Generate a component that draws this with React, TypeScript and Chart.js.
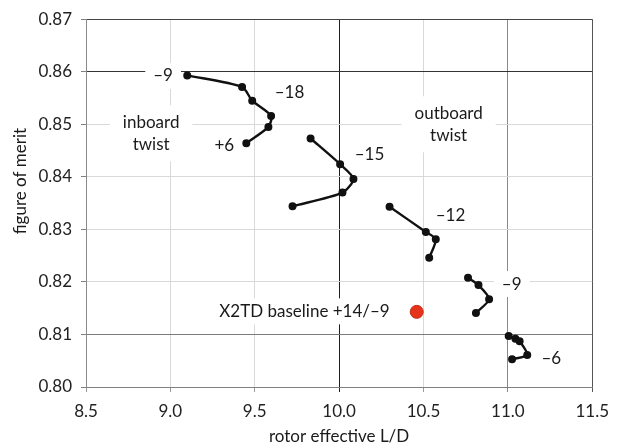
import React, { useEffect, useRef } from "react";
import { Chart, registerables } from "chart.js";

Chart.register(...registerables);

// ---- data (rotor effective L/D, figure of merit) ----
const curve18X = [9.1, 9.425, 9.485, 9.597, 9.581, 9.45];
const curve18Y = [0.8593, 0.8571, 0.8545, 0.8516, 0.8495, 0.8464];
const curve15X = [9.831, 10.006, 10.085, 10.02, 9.724];
const curve15Y = [0.8473, 0.8424, 0.8396, 0.837, 0.8344];
const curve12X = [10.299, 10.514, 10.573, 10.534];
const curve12Y = [0.8343, 0.8295, 0.8281, 0.8246];
const curve9X = [10.764, 10.826, 10.889, 10.811];
const curve9Y = [0.8208, 0.8194, 0.8167, 0.8141];
const curve6X = [11.005, 11.045, 11.07, 11.115, 11.025];
const curve6Y = [0.8097, 0.8092, 0.8087, 0.8061, 0.8053];
const baselineX = [10.46];
const baselineY = [0.8143];

const xTickMin = 8.5;
const xTickMax = 11.5;
const xTickStep = 0.5;
const yTickMin = 0.8;
const yTickMax = 0.87;
const yTickStep = 0.01;

const xTitle = "rotor effective L/D";
const yTitle = "figure of merit";

// annotation texts anchored in data units
const labelTexts = ["–9", "–18", "+6", "inboard\ntwist", "–15", "outboard\ntwist", "–12", "–9", "–6", "X2TD baseline +14/–9"];
const labelX = [8.957, 9.706, 9.32, 8.886, 10.18, 10.649, 10.66, 11.023, 11.258, 10.3];
const labelY = [0.8592, 0.8561, 0.846, 0.8483, 0.8443, 0.85, 0.8327, 0.8196, 0.8055, 0.8144];
const labelAlign = ["center", "center", "center", "center", "center", "center", "center", "center", "center", "right"];

const FONT = "Lato";

function pts(xs: number[], ys: number[]) {
  return xs.map((x, i) => ({ x, y: ys[i] }));
}

const darkX: Record<string, string> = { "10.0": "#1e1e1e", "11.0": "#8a8a8a", "11.5": "#555555" };
const darkY: Record<string, string> = { "0.86": "#333333", "0.81": "#7a7a7a", "0.87": "#444444" };

const annotationPlugin = {
  id: "annotations",
  beforeDatasetsDraw(chart: any) {
    const { ctx, scales } = chart;
    ctx.save();
    ctx.font = `17px ${FONT}`;
    ctx.textBaseline = "middle";
    const lh = 22;
    labelTexts.forEach((t, i) => {
      const lines = t.split("\n");
      const px = scales.x.getPixelForValue(labelX[i]);
      const py = scales.y.getPixelForValue(labelY[i]);
      const w = Math.max(...lines.map((l) => ctx.measureText(l).width));
      const h = lines.length * lh;
      const padX = lines.length > 1 ? 13 : 8;
      const padY = lines.length > 1 ? 6 : 2;
      const left = labelAlign[i] === "right" ? px - w : px - w / 2;
      ctx.fillStyle = "#ffffff";
      ctx.fillRect(left - padX, py - h / 2 - padY, w + 2 * padX, h + 2 * padY);
      ctx.fillStyle = "#1a1a1a";
      lines.forEach((l, j) => {
        ctx.textAlign = labelAlign[i] === "right" ? "right" : "center";
        const yy = py - h / 2 + lh / 2 + j * lh;
        ctx.fillText(l, px, yy);
      });
    });
    ctx.restore();
  },
  afterDraw(chart: any) {
    const { ctx, chartArea } = chart;
    ctx.save();
    ctx.fillStyle = "#1a1a1a";
    ctx.font = `17px ${FONT}`;
    ctx.textAlign = "center";
    ctx.textBaseline = "middle";
    ctx.fillText(xTitle, (chartArea.left + chartArea.right) / 2, 437);
    ctx.translate(21, 181);
    ctx.rotate(-Math.PI / 2);
    ctx.fillText(yTitle, 0, 0);
    ctx.restore();
  },
};

export default function App() {
  const ref = useRef<HTMLCanvasElement | null>(null);
  useEffect(() => {
    if (!ref.current) return;
    const lineDs = (xs: number[], ys: number[], label: string) => ({
      label,
      data: pts(xs, ys),
      showLine: true,
      borderColor: "#111111",
      backgroundColor: "#111111",
      borderWidth: 2.4,
      pointRadius: 2.8,
      pointHoverRadius: 2.8,
      tension: 0.25,
    });
    const chart = new Chart(ref.current, {
      type: "scatter",
      data: {
        datasets: [
          lineDs(curve18X, curve18Y, "–18"),
          lineDs(curve15X, curve15Y, "–15"),
          lineDs(curve12X, curve12Y, "–12"),
          lineDs(curve9X, curve9Y, "–9"),
          lineDs(curve6X, curve6Y, "–6"),
          {
            label: "X2TD baseline",
            data: pts(baselineX, baselineY),
            showLine: false,
            backgroundColor: "#e5321b",
            borderColor: "#c92a14",
            borderWidth: 1,
            pointRadius: 6.5,
          },
        ],
      },
      options: {
        responsive: false,
        animation: false,
        events: [],
        layout: { padding: { top: 19, right: 20, left: 0, bottom: 0 } },
        plugins: { legend: { display: false }, tooltip: { enabled: false } },
        scales: {
          x: {
            type: "linear",
            min: xTickMin,
            max: xTickMax,
            afterFit: (s: any) => {
              s.height = 60;
            },
            ticks: {
              stepSize: xTickStep,
              padding: 9,
              color: "#222222",
              font: { family: FONT, size: 17 },
              callback: (v: any) => Number(v).toFixed(1),
            },
            grid: {
              color: (c: any) => darkX[Number(c.tick?.value).toFixed(1)] || "#d9d9d9",
              tickLength: 5,
              tickColor: (c: any) => darkX[Number(c.tick?.value).toFixed(1)] || "#9a9a9a",
            },
            border: { color: "#808080", width: 1 },
          },
          y: {
            type: "linear",
            min: yTickMin,
            max: yTickMax,
            afterFit: (s: any) => {
              s.width = 86;
            },
            ticks: {
              stepSize: yTickStep,
              padding: 9,
              color: "#222222",
              font: { family: FONT, size: 17 },
              callback: (v: any) => Number(v).toFixed(2),
            },
            grid: {
              color: (c: any) => darkY[Number(c.tick?.value).toFixed(2)] || "#d9d9d9",
              tickLength: 5,
              tickColor: "#808080",
            },
            border: { color: "#8a8a8a", width: 1 },
          },
        },
      },
      plugins: [annotationPlugin],
    } as any);
    return () => chart.destroy();
  }, []);
  return (
    <div style={{ position: "fixed", left: 0, top: 0, width: 618, height: 447, background: "#ffffff" }}>
      <canvas ref={ref} width={618} height={447} style={{ display: "block", width: 618, height: 447 }} />
    </div>
  );
}
